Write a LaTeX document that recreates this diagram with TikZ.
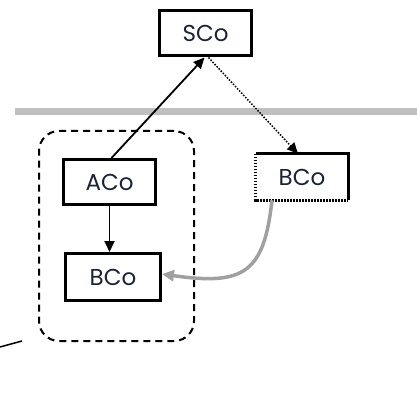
\documentclass[tikz,border=0pt]{standalone}
\usepackage{fontspec}
\setmainfont{Poppins}
\usetikzlibrary{arrows.meta}
\definecolor{txt}{HTML}{1B2238}
\definecolor{sepgray}{HTML}{C0C0C0}
\definecolor{curvegray}{HTML}{A0A0A0}
\tikzset{
  box/.style={draw=black, line width=3pt, fill=white, minimum width=92pt, minimum height=45pt, inner sep=0pt, text=txt, font=\fontsize{23}{26}\selectfont},
  plainbox/.style={fill=white, minimum width=92pt, minimum height=46pt, inner sep=0pt, text=txt, font=\fontsize{23}{26}\selectfont},
  arr/.style={line width=1.8pt, -{Triangle[length=11pt,width=10pt]}},
}
\begin{document}
\begin{tikzpicture}[x=1pt,y=-1pt]
\useasboundingbox (0,0) rectangle (417,403);
% separator
\draw[sepgray, line width=7pt] (15,112) -- (417,112);
% group
\node[draw=black, line width=2pt, dash pattern=on 7pt off 5pt, rounded corners=20pt, minimum width=155pt, minimum height=210pt] (grp) at (116.5,236) {};
% nodes
\node[box] (SCo) at (205.5,33.5) {SCo};
\node[box] (ACo) at (109.5,182) {ACo};
\node[box, minimum width=95pt, minimum height=47pt] (BCo) at (113,277) {BCo};
\node[plainbox] (BCo2) at (302,177) {BCo};
\draw[line width=3pt] (BCo2.north west) -- (BCo2.north east) -- (BCo2.south east);
\draw[line width=3pt, dash pattern=on 1.5pt off 1.5pt] (BCo2.north west) -- (BCo2.south west) -- (BCo2.south east);
% connectors
\draw[arr] ([xshift=2pt]ACo.north) -- ([xshift=-1pt]SCo.south);
\draw[line width=1.5pt, dash pattern=on 1.5pt off 1.5pt, -{Triangle[length=11pt,width=10pt]}] ([xshift=3pt]SCo.south) -- ([xshift=-4pt]BCo2.north);
\draw[arr] (ACo.south) -- (ACo.south |- BCo.north);
\draw[curvegray, line width=3.5pt, -{Triangle[length=12pt,width=11pt]}] ([xshift=-30pt]BCo2.south) .. controls (264,272) and (245,286) .. ([yshift=3pt]BCo.east);
% stray edge
\coordinate (s1) at (0,347);
\coordinate (s2) at (22,341);
\draw[line width=1.5pt] (s1) -- (s2);
\end{tikzpicture}
\end{document}
